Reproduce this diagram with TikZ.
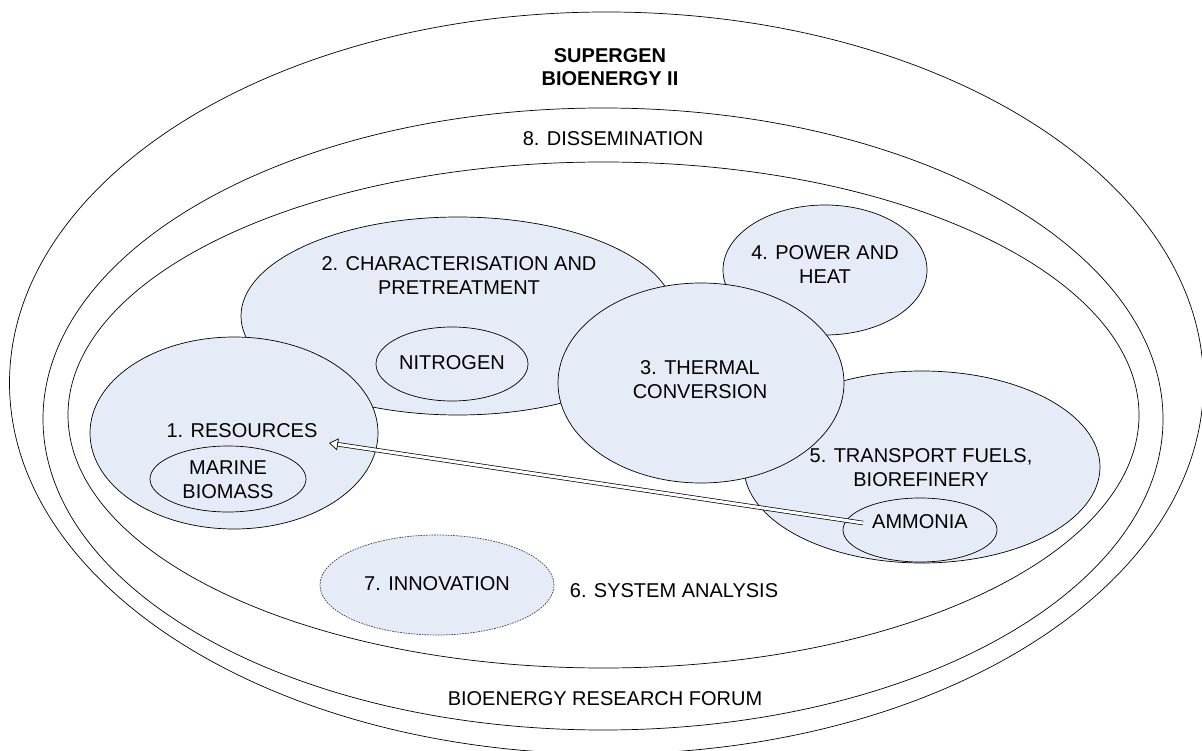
\documentclass[tikz,border=0pt]{standalone}
\usepackage{fontspec}
\setmainfont{Liberation Sans}
\usetikzlibrary{shapes.geometric,arrows.meta}
\definecolor{blobfill}{RGB}{230,236,247}
\begin{document}
\begin{tikzpicture}[x=1pt,y=-1pt,
  ring/.style={draw=black, line width=0.7pt, ellipse, inner sep=0pt, outer sep=0pt},
  blob/.style={ring, fill=blobfill},
  dotblob/.style={blob, draw=black!75, dash pattern=on 1.6pt off 1.1pt},
  lbl/.style={font=\fontsize{20}{24}\selectfont, align=center, inner sep=0pt},
  boldlbl/.style={lbl, font=\fontsize{20}{23}\selectfont\bfseries},
  hollowarrow/.style={line width=0.7pt, double=white, double distance=3pt,
    -{Triangle[fill=white, length=9pt, width=12pt, line width=0.7pt]}}
]
\useasboundingbox (0,0) rectangle (1202,751);

% nested programme rings
\node[ring, minimum width=1194pt, minimum height=742pt] (programme) at (606.5,383) {};
\node[ring, minimum width=1120pt, minimum height=622pt] (forum) at (603,419) {};
\node[ring, minimum width=1071pt, minimum height=506pt] (analysis) at (603.5,415) {};

% work packages
\node[blob, minimum width=434pt, minimum height=198pt] (charac) at (458,316) {};
\node[blob, minimum width=204pt, minimum height=130pt] (power) at (825,270) {};
\node[blob, minimum width=288pt, minimum height=192pt] (resources) at (234,433) {};
\node[blob, minimum width=356pt, minimum height=192pt] (transport) at (922,467) {};
\node[blob, minimum width=286pt, minimum height=200pt] (thermal) at (701,383) {};

% cross-cutting themes
\node[ring, minimum width=152pt, minimum height=74pt] (nitrogen) at (452,364) {};
\node[ring, minimum width=156pt, minimum height=66pt] (marine) at (228,479) {};
\node[ring, minimum width=154pt, minimum height=64pt] (ammonia) at (920,530) {};
\node[dotblob, minimum width=234pt, minimum height=100pt] (innovation) at (437,585) {};

% link from ammonia back to resources
\coordinate (arrtail) at (863,523);
\coordinate (arrtip) at (329,443);
\draw[hollowarrow] (arrtail) -- (arrtip);

% labels
\node[boldlbl] (tsupergen) at (610,67.5) {SUPERGEN\\BIOENERGY II};
\node[lbl] (tdissem) at (613,139) {8. DISSEMINATION};
\node[lbl] (tcharac) at (459,276) {2. CHARACTERISATION AND\\PRETREATMENT};
\node[lbl] (tnitrogen) at (452,363) {NITROGEN};
\node[lbl] (tpower) at (825,265) {4. POWER AND\\HEAT};
\node[lbl] (tthermal) at (700,379.5) {3. THERMAL\\CONVERSION};
\node[lbl] (tresources) at (242,431) {1. RESOURCES};
\node[lbl] (tmarine) at (228,480) {MARINE\\BIOMASS};
\node[lbl] (ttransport) at (921,468) {5. TRANSPORT FUELS,\\BIOREFINERY};
\node[lbl] (tammonia) at (920,522) {AMMONIA};
\node[lbl] (tinnovation) at (437,584) {7. INNOVATION};
\node[lbl] (tanalysis) at (674,591) {6. SYSTEM ANALYSIS};
\node[lbl] (tforum) at (605,699) {BIOENERGY RESEARCH FORUM};
\end{tikzpicture}
\end{document}
